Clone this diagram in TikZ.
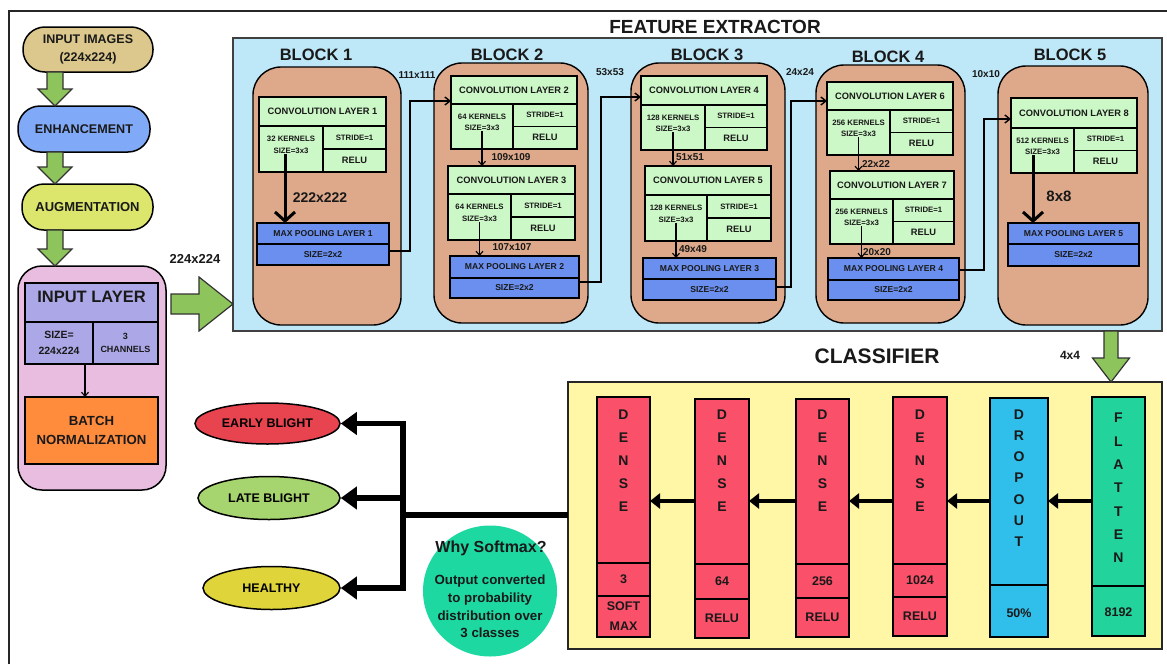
\documentclass[tikz,border=0pt]{standalone}
\usepackage{fontspec}
\setmainfont{Liberation Sans}
\usetikzlibrary{arrows.meta,shapes.geometric,calc}
\definecolor{tanC}{HTML}{DCC88C}
\definecolor{enhC}{HTML}{80A9F7}
\definecolor{augC}{HTML}{DCE66C}
\definecolor{garC}{HTML}{8DC45B}
\definecolor{pinkC}{HTML}{E8BDE0}
\definecolor{purpC}{HTML}{ACA8E8}
\definecolor{orC}{HTML}{FF8B3D}
\definecolor{feC}{HTML}{BEE7F7}
\definecolor{blkC}{HTML}{DDA98A}
\definecolor{convC}{HTML}{CCF7C6}
\definecolor{poolC}{HTML}{6A8FEE}
\definecolor{clsC}{HTML}{FFF6A6}
\definecolor{denC}{HTML}{FB5069}
\definecolor{dropC}{HTML}{30BEEA}
\definecolor{flatC}{HTML}{22D39B}
\definecolor{ebC}{HTML}{E8444F}
\definecolor{lbC}{HTML}{A6D46E}
\definecolor{hC}{HTML}{DFD43A}
\definecolor{smC}{HTML}{1ED8A2}
\newcommand\fs[2]{\fontsize{#1}{#2}\selectfont\bfseries}
\tikzset{
 txt/.style={inner sep=0pt, outer sep=0pt, align=center, text=black!90},
 mybox/.style={draw=black, line width=1.8pt},
 convbox/.style={mybox, fill=convC},
 poolbox/.style={mybox, fill=poolC},
 blockbox/.style={draw=black, line width=1.4pt, fill=blkC, rounded corners=28pt},
 pill/.style={draw=black, line width=1.5pt, rounded corners=22pt, font=\fs{12.5}{18}},
 cline/.style={line width=1.3pt, draw=black},
 convtitle/.style={txt, font=\fs{9.3}{11}},
 convsmall/.style={txt, font=\fs{7.8}{11.5}},
 convrelu/.style={txt, font=\fs{9.3}{11}},
 pooltitle/.style={txt, font=\fs{8.6}{10}},
 poolsize/.style={txt, font=\fs{8.6}{10}},
 dimlabel/.style={txt, font=\fs{10}{12}},
 biglabel/.style={txt, font=\fs{14}{16}},
 blocklabel/.style={txt, font=\fs{16.5}{18}},
 titlelabel/.style={txt, font=\fs{19}{21}},
 conn/.style={line width=1.4pt, -{Straight Barb[length=5pt,width=8pt]}},
 thinarr/.style={line width=1.1pt, -{Straight Barb[length=4pt,width=7pt]}},
 thickarr/.style={line width=3pt, -{Straight Barb[length=9pt,width=20pt]}},
 garrow/.style={fill=garC, draw=black!80, line width=1.2pt, line join=miter},
 colbox/.style={draw=black, line width=1.4pt},
 colletters/.style={txt, font=\fs{14}{23}},
 colnum/.style={txt, font=\fs{12.5}{15}},
 colact/.style={txt, font=\fs{12.5}{20}},
 carr/.style={line width=4.5pt, -{Triangle[length=10pt,width=15pt]}},
 oline/.style={line width=5.5pt},
 oarr/.style={line width=5.5pt, -{Triangle[length=16pt,width=22pt]}},
 ell/.style={ellipse, draw=black, line width=1.5pt, inner sep=0pt, font=\fs{12.5}{14}},
}
\newcommand\mybox[7]{\node[txt,#6,minimum width={(#4-#2)*1pt},minimum height={(#5-#3)*1pt}] (#1) at ({(#2+#4)/2},{(#3+#5)/2}) {#7};}
\newcommand\convL[9]{%
 \mybox{#1}{#2}{#3}{#4}{#5}{convbox}{}%
 \draw[cline] (#2,#6) -- (#4,#6);
 \draw[cline] (#7,#6) -- (#7,#5);
 \draw[cline] (#7,{(#6+#5)/2}) -- (#4,{(#6+#5)/2});
 \node[convtitle] (#1-t) at ({(#2+#4)/2},{(#3+#6)/2}) {CONVOLUTION LAYER #8};
 \node[convsmall] (#1-k) at ({(#2+#7)/2},{(#6+#5)/2-4}) {#9 KERNELS\\SIZE=3x3};
 \node[convsmall] (#1-s) at ({(#7+#4)/2},{(3*#6+#5)/4}) {STRIDE=1};
 \node[convrelu] (#1-r) at ({(#7+#4)/2},{(#6+3*#5)/4}) {RELU};%
}
\newcommand\poolL[7]{%
 \mybox{#1}{#2}{#3}{#4}{#5}{poolbox}{}%
 \draw[cline] (#2,#6) -- (#4,#6);
 \node[pooltitle] (#1-t) at ({(#2+#4)/2},{(#3+#6)/2}) {MAX POOLING LAYER #7};
 \node[poolsize] (#1-s) at ({(#2+#4)/2},{(#6+#5)/2}) {SIZE=2x2};%
}
\newcommand\densecol[9]{%
 \mybox{#1}{#2}{#3}{#4}{#5}{colbox,fill=denC}{}%
 \draw[cline] (#2,#6) -- (#4,#6);
 \draw[cline] (#2,#7) -- (#4,#7);
 \node[colletters] (#1-l) at ({(#2+#4)/2},461) {D\\E\\N\\S\\E};
 \node[colnum] (#1-n) at ({(#2+#4)/2},{(#6+#7)/2}) {#8};
 \node[colact] (#1-a) at ({(#2+#4)/2},{(#7+#5)/2}) {#9};%
}
\newcommand\gdown[5]{%
 \draw[garrow] let \p1=#1, \p2=#2 in
  ({\x1-#3pt},\y1) -- ({\x1+#3pt},\y1) -- ({\x1+#3pt},{\y2+#5pt}) -- ({\x1+#4pt},{\y2+#5pt}) -- (\x1,\y2) -- ({\x1-#4pt},{\y2+#5pt}) -- ({\x1-#3pt},{\y2+#5pt}) -- cycle;}
\newcommand\gright[5]{%
 \draw[garrow] let \p1=#1, \p2=#2 in
  (\x1,{\y1+#3pt}) -- ({\x2-#5pt},{\y1+#3pt}) -- ({\x2-#5pt},{\y1+#4pt}) -- (\x2,\y1) -- ({\x2-#5pt},{\y1-#4pt}) -- ({\x2-#5pt},{\y1-#3pt}) -- (\x1,{\y1-#3pt}) -- cycle;}
\begin{document}
\begin{tikzpicture}[x=1pt,y=-1pt]
\useasboundingbox (0,0) rectangle (1167,664);
\fill[white] (0,0) rectangle (1167,664);
% outer frame
\draw[line width=1.5pt, black!85] (9,664) -- (9,11) -- (1167,11);

% ---------- left pipeline ----------
\mybox{img}{23}{27}{153}{72}{pill,fill=tanC}{INPUT IMAGES\\(224x224)}
\mybox{enh}{18}{106}{150}{152}{pill,fill=enhC,font=\fs{12.6}{14}}{ENHANCEMENT}
\mybox{aug}{22}{184}{153}{230}{pill,fill=augC,font=\fs{13}{14}}{AUGMENTATION}
\mybox{inl}{18}{266}{166}{490}{draw=black,line width=1.5pt,fill=pinkC,rounded corners=24pt}{}
\mybox{il}{25}{283}{158}{322}{mybox,fill=purpC}{}
\node[txt,font=\fs{16.5}{18}] (il-t) at (91.5,297) {INPUT LAYER};
\mybox{ils}{25}{322}{93}{364}{mybox,fill=purpC,font=\fs{10.5}{16}}{SIZE=\\224x224}
\mybox{ilc}{93}{322}{158}{364}{mybox,fill=purpC,font=\fs{9}{13}}{3\\CHANNELS}
\mybox{bn}{25}{397}{158}{464}{mybox,fill=orC,font=\fs{13.2}{19}}{BATCH\\NORMALIZATION}
\draw[thinarr] (ils.south -| 85,0) -- (bn.north -| 85,0);

\gdown{(img.south -| 55,0)}{(enh.north -| 55,0)}{8}{17}{17}
\gdown{(enh.south -| 55,0)}{(aug.north -| 55,0)}{8}{17}{17}
\gdown{(aug.south -| 55,0)}{(inl.north -| 55,0)}{8}{17}{17}

% ---------- feature extractor ----------
\node[titlelabel] (fet) at (715,27) {FEATURE EXTRACTOR};
\mybox{fe}{233}{38}{1162}{331}{fill=feC,draw=black!75,line width=1.5pt}{}
\gright{($(inl.east |- 0,304)+(5,0)$)}{(fe.west |- 0,304)}{10}{27}{34}
\node[txt,font=\fs{13}{15}] (l224) at (195,259) {224x224};

\mybox{b1}{253}{67}{401}{325}{blockbox}{}
\mybox{b2}{434}{63}{588}{323}{blockbox}{}
\mybox{b3}{631}{63}{785}{323}{blockbox}{}
\mybox{b4}{816}{65}{965}{323}{blockbox}{}
\mybox{b5}{998}{66}{1148}{325}{blockbox}{}
\node[blocklabel] (b1l) at (316,55) {BLOCK 1};
\node[blocklabel] (b2l) at (507,55) {BLOCK 2};
\node[blocklabel] (b3l) at (707,55) {BLOCK 3};
\node[blocklabel] (b4l) at (888,57) {BLOCK 4};
\node[blocklabel] (b5l) at (1070,55) {BLOCK 5};

\convL{c1}{259}{97}{386}{172}{126}{323}{1}{32}
\convL{c2}{451}{76}{577}{149}{104}{513}{2}{64}
\convL{c3}{448}{166}{575}{240}{194}{511}{3}{64}
\convL{c4}{641}{76}{767}{150}{105}{705}{4}{128}
\convL{c5}{645}{166}{771}{241}{195}{707}{5}{128}
\convL{c6}{827}{82}{953}{155}{110}{890}{6}{256}
\convL{c7}{830}{171}{954}{244}{199}{893}{7}{256}
\convL{c8}{1011}{98}{1137}{173}{128}{1074}{8}{512}

\poolL{p1}{257}{223}{389}{265}{244}{1}
\poolL{p2}{450}{256}{579}{298}{278}{2}
\poolL{p3}{643}{258}{776}{300}{279}{3}
\poolL{p4}{828}{258}{959}{300}{280}{4}
\poolL{p5}{1008}{223}{1139}{266}{244}{5}

% inner arrows
\draw[thickarr] (c1-k.south -| 285,0) -- (p1.north -| 285,0);
\draw[thinarr] (c2-k.south) -- (c2-k.south |- c3.north);
\draw[thinarr] (c3-k.south) -- (c3-k.south |- p2.north);
\draw[thinarr] (c4-k.south) -- (c4-k.south |- c5.north);
\draw[thinarr] (c5-k.south) -- (c5-k.south |- p3.north);
\draw[thinarr] (c6-k.south) -- (c6-k.south |- c7.north);
\draw[thinarr] (c7-k.south) -- (c7-k.south |- p4.north);
\draw[thickarr] (c8-k.south -| 1033,0) -- (p5.north -| 1033,0);

\node[biglabel] (d1) at (320,198) {222x222};
\node[dimlabel] (d2) at (511,157) {109x109};
\node[dimlabel] (d3) at (512,247) {107x107};
\node[dimlabel] (d4) at (690,157) {51x51};
\node[dimlabel] (d5) at (693,249) {49x49};
\node[dimlabel] (d6) at (876,164) {22x22};
\node[dimlabel] (d7) at (877,252) {20x20};
\node[txt,font=\fs{15}{17}] (d8) at (1059,196) {8x8};

% block connectors
\draw[conn] ($(p1.east)+(0,7)$) -- ++(21,0) |- ($(c2.west)+(0,-11.5)$);
\draw[conn] ($(p2.east)+(0,5)$) -- ++(22,0) |- ($(c4.west)+(0,-16)$);
\draw[conn] ($(p3.east)+(0,8)$) -- ++(15,0) |- ($(c6.west)+(0,-17.5)$);
\draw[conn] ($(p4.east)+(0,-9)$) -- ++(25,0) |- ($(c8.west)+(0,-16.5)$);
\node[dimlabel] (e1) at (417,75) {111x111};
\node[dimlabel] (e2) at (610,72) {53x53};
\node[dimlabel] (e3) at (800,72) {24x24};
\node[dimlabel] (e4) at (986,74) {10x10};

% ---------- classifier ----------
\node[txt,font=\fs{21}{23}] (clt) at (877,356) {CLASSIFIER};
\mybox{cls}{568}{382}{1162}{649}{fill=clsC,draw=black!85,line width=1.5pt}{}
\gdown{(fe.south -| 1111,0)}{(cls.north -| 1111,0)}{7}{18.5}{24}
\node[txt,font=\fs{12}{14}] (l44) at (1070,355) {4x4};

\densecol{dsm}{597}{397}{650}{637}{563}{596}{3}{SOFT\\MAX}
\densecol{d64}{695}{399}{749}{638}{564}{599}{64}{RELU}
\densecol{d256}{796}{399}{849}{637}{564}{598}{256}{RELU}
\densecol{d1024}{893}{397}{947}{636}{564}{597}{1024}{RELU}

\mybox{drop}{990}{398}{1048}{637}{colbox,fill=dropC}{}
\draw[cline] (990,585) -- (1048,585);
\node[txt,font=\fs{14}{21.2}] (drop-l) at (1019,478) {D\\R\\O\\P\\O\\U\\T};
\node[colnum] (drop-n) at (1019,613) {50\%};

\mybox{flat}{1092}{397}{1145}{636}{colbox,fill=flatC}{}
\draw[cline] (1092,586) -- (1145,586);
\node[txt,font=\fs{14}{23.3}] (flat-l) at (1118.5,488) {F\\L\\A\\T\\T\\E\\N};
\node[colnum] (flat-n) at (1118.5,612) {8192};

\draw[carr] (flat.west |- 0,501) -- (drop.east |- 0,501);
\draw[carr] (drop.west |- 0,501) -- (d1024.east |- 0,501);
\draw[carr] (d1024.west |- 0,501) -- (d256.east |- 0,501);
\draw[carr] (d256.west |- 0,501) -- (d64.east |- 0,501);
\draw[carr] (d64.west |- 0,501) -- (dsm.east |- 0,501);

% ---------- outputs ----------
\node[ell,fill=ebC,minimum width=145pt,minimum height=41pt] (eb) at (267.5,423.5) {EARLY BLIGHT};
\node[ell,fill=lbC,minimum width=142pt,minimum height=43pt] (lb) at (269,498) {LATE BLIGHT};
\node[ell,fill=hC,minimum width=137pt,minimum height=43pt] (hl) at (271.5,588) {HEALTHY};
\coordinate (jn) at (403,515);
\draw[oline] (cls.west |- jn) -- (jn);
\draw[oline,line cap=rect] (jn |- eb.east) -- (jn |- hl.east);
\draw[oarr] (jn |- eb.east) -- (eb.east);
\draw[oarr] (jn |- lb.east) -- (lb.east);
\draw[oarr] (jn |- hl.east) -- (hl.east);

\node[ellipse,fill=smC,minimum width=134pt,minimum height=131pt,inner sep=0pt] (sm) at (490,591) {};
\node[txt,font=\fs{16}{18}] (sm-t) at (491,548) {Why Softmax?};
\node[txt,font=\fs{13.3}{17.7}] (sm-b) at (490,606.5) {Output converted\\to probability\\distribution over\\3 classes};
\end{tikzpicture}
\end{document}
